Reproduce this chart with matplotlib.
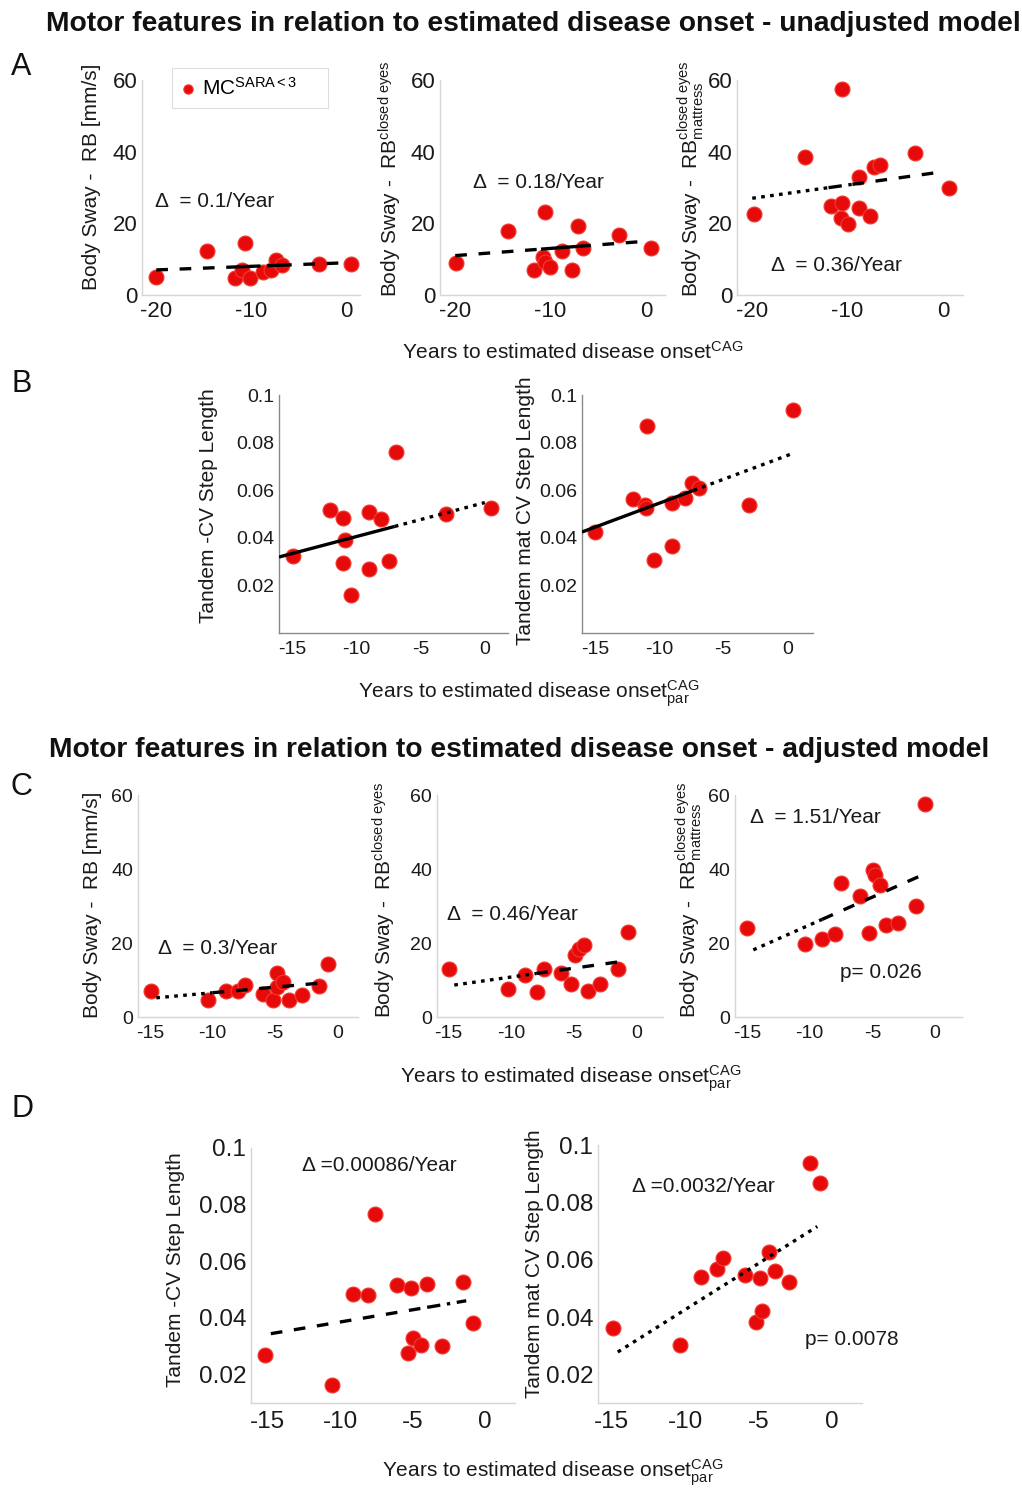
import numpy as np
import matplotlib
matplotlib.use("Agg")
from matplotlib import pyplot as plt

plt.rcParams['font.family'] = ['Liberation Sans', 'DejaVu Sans']
plt.rcParams['mathtext.fontset'] = 'custom'
plt.rcParams['mathtext.rm'] = 'Liberation Sans'
plt.rcParams['mathtext.it'] = 'Liberation Sans:italic'
plt.rcParams['mathtext.bf'] = 'Liberation Sans:bold'

W, H = 1022, 1488

# ---- data ----
# A: unadjusted model, body sway
a1_x = [-20, -14.7, -10.7, -11.75, -11.0, -10.2, -8.8, -7.9, -7.4, -6.8, -2.9, 0.5]
a1_y = [4.9, 12.4, 14.6, 4.65, 7.0, 4.65, 6.5, 7.0, 9.8, 8.4, 8.7, 8.7]
a2_x = [-19.9, -14.5, -10.6, -11.75, -10.8, -10.6, -10.1, -8.8, -7.8, -7.1, -6.6, -2.8, 0.5]
a2_y = [9.0, 18.0, 23.1, 7.0, 10.7, 9.3, 7.9, 12.4, 7.0, 19.3, 13.0, 16.7, 13.0]
a3_x = [-19.8, -14.5, -10.6, -11.7, -10.6, -10.7, -10.0, -8.8, -8.8, -7.7, -7.2, -6.6, -2.9, 0.6]
a3_y = [22.6, 38.6, 57.4, 24.9, 25.6, 21.4, 19.8, 33.0, 24.2, 22.1, 35.8, 36.3, 39.5, 30.0]

# B: unadjusted model, tandem gait
b1_x = [-14.9, -12.0, -11.0, -10.9, -11.0, -10.4, -9.0, -9.0, -8.06, -7.45, -6.9, -3.0, 0.45]
b1_y = [0.0322, 0.0517, 0.0483, 0.0392, 0.0294, 0.0161, 0.0269, 0.0510, 0.0478, 0.0301, 0.0762, 0.0499, 0.0524]
b2_x = [-14.95, -12.05, -11.1, -11.0, -10.95, -10.4, -9.0, -9.0, -7.95, -7.4, -6.9, -3.0, 0.47]
b2_y = [0.0424, 0.0564, 0.0538, 0.0524, 0.087, 0.0308, 0.0545, 0.0364, 0.0566, 0.063, 0.0608, 0.0538, 0.0937]

# C: adjusted model, body sway
c1_x = [-14.9, -10.35, -8.9, -7.96, -7.4, -6.0, -5.2, -4.9, -4.9, -4.4, -3.9, -2.9, -1.5, -0.8]
c1_y = [6.9, 4.5, 6.9, 7.0, 8.6, 6.3, 4.5, 12.0, 8.1, 9.5, 4.5, 5.9, 8.3, 14.4]
c2_x = [-14.95, -10.2, -8.9, -7.9, -7.4, -6.0, -5.25, -4.9, -4.6, -4.2, -3.9, -2.9, -1.5, -0.75]
c2_y = [12.9, 7.7, 11.3, 6.8, 12.9, 11.9, 8.8, 16.7, 18.5, 19.4, 7.0, 8.8, 12.9, 23.0]
c3_x = [-14.97, -10.4, -9.0, -8.0, -7.5, -6.0, -5.3, -4.95, -4.8, -4.4, -3.95, -2.95, -1.5, -0.8]
c3_y = [24.1, 19.7, 21.2, 22.3, 36.1, 32.7, 22.6, 39.7, 38.4, 35.6, 24.8, 25.5, 30.0, 57.6]

# D: adjusted model, tandem gait
d1_x = [-15.2, -10.55, -9.1, -8.1, -7.6, -6.1, -5.1, -5.3, -4.95, -4.4, -4.0, -3.0, -1.55, -0.85]
d1_y = [0.0268, 0.0162, 0.0485, 0.0482, 0.0767, 0.0515, 0.0506, 0.0276, 0.0329, 0.0304, 0.0521, 0.0300, 0.0527, 0.0382]
d2_x = [-14.9, -10.35, -8.9, -7.85, -7.4, -5.9, -5.2, -4.9, -4.75, -4.3, -3.9, -2.9, -1.5, -0.8]
d2_y = [0.0361, 0.0303, 0.0539, 0.0566, 0.0605, 0.0547, 0.0381, 0.0536, 0.0421, 0.0626, 0.0560, 0.0521, 0.0936, 0.0866]

# fitted trend lines: slope, intercept at x=0
fit_slope = {'a1': 0.1, 'a2': 0.2, 'a3': 0.37, 'b1': 0.00143, 'b2': 0.00201,
             'c1': 0.304, 'c2': 0.48, 'c3': 1.5, 'd1': 0.00086, 'd2': 0.00322}
fit_icpt = {'a1': 9.0, 'a2': 15.0, 'a3': 34.4, 'b1': 0.0548, 'b2': 0.0746,
            'c1': 9.6, 'c2': 15.6, 'c3': 39.9, 'd1': 0.0472, 'd2': 0.0748}

DASH = (0, (3.5, 3.5))
LDASH = (0, (7, 2))
DOT = (0, (1.1, 1.6))
DDOT = (0, (4, 2, 1, 2))
fit_segs = {
    'a1': [(-20, -11.5, DASH), (-11.5, -7, LDASH), (-7, 0, DASH)],
    'a2': [(-20, -11, DASH), (-11, -7, '-'), (-7, -0.5, DASH)],
    'a3': [(-20, -12, DOT), (-12, -9.5, DDOT), (-9.5, -0.5, DASH)],
    'b1': [(-16, -7, '-'), (-7, 0, DOT)],
    'b2': [(-16, -7.3, '-'), (-7.3, 0.3, DOT)],
    'c1': [(-14.5, -10, DOT), (-10, -1, DASH)],
    'c2': [(-14.5, -8, DOT), (-8, -1, DASH)],
    'c3': [(-14.5, -9, DOT), (-9, -1, DASH)],
    'd1': [(-14.8, -4, DASH), (-4, -1.3, DDOT)],
    'd2': [(-14.6, -1.0, DOT)],
}

ylab_sway = r'Body Sway -  RB [mm/s]'
ylab_eyes = r'Body Sway -  RB$^{\rm closed\ eyes}$'
ylab_matt = r'Body Sway -  RB$^{\rm closed\ eyes}_{\rm mattress}$'
ylab_tcv = 'Tandem -CV Step Length'
ylab_tmat = 'Tandem mat CV Step Length'

sway_ticks = [0, 20, 40, 60]
cv_ticks = [0.02, 0.04, 0.06, 0.08, 0.1]
cv_ticklabels = ['0.02', '0.04', '0.06', '0.08', '0.1']

fig = plt.figure(figsize=(W / 100, H / 100), dpi=100)


def px_axes(l, t, r, b):
    return fig.add_axes([l / W, 1 - b / H, (r - l) / W, (b - t) / H])


def ptext(x, y, s, **kw):
    return fig.text(x / W, 1 - y / H, s, **kw)


def make_panel(key, box, xs, ys, xlim, ylim, xticks, yticks, ytl, spine, fs, xpad, ylab, ylab_pos):
    ax = px_axes(*box)
    ax.scatter(xs, ys, s=115, facecolor='#e60a0a', edgecolor='#f23a30', linewidth=0.8, zorder=3)
    for x0, x1, ls in fit_segs[key]:
        xx = np.array([x0, x1])
        ax.plot(xx, fit_icpt[key] + fit_slope[key] * xx, color='k', lw=2.4,
                linestyle=ls, solid_capstyle='butt', zorder=4)
    ax.set_xlim(*xlim)
    ax.set_ylim(*ylim)
    ax.set_xticks(xticks)
    ax.set_xticklabels([str(t) for t in xticks])
    ax.set_yticks(yticks)
    ax.set_yticklabels(ytl)
    for s in ['top', 'right']:
        ax.spines[s].set_visible(False)
    for s in ['left', 'bottom']:
        ax.spines[s].set_color(spine)
        ax.spines[s].set_linewidth(1.0)
    ax.tick_params(axis='both', length=0, labelsize=fs, colors='#1a1a1a')
    ax.tick_params(axis='x', pad=xpad)
    ax.tick_params(axis='y', pad=3.5)
    ax.patch.set_alpha(0)
    ptext(ylab_pos[0], ylab_pos[1], ylab, rotation=90, rotation_mode='anchor',
          ha='left', va='baseline', fontsize=15, color='#1a1a1a')
    return ax


ATK = [-20, -10, 0]
TK15 = [-15, -10, -5, 0]
LGRAY = '#d6d6d6'
DGRAY = '#8a8a8a'
sway_tl = [str(t) for t in sway_ticks]

ax_a1 = make_panel('a1', (142, 80, 360, 295), a1_x, a1_y, (-21.5, 1.4), (0, 60), ATK,
                   sway_ticks, sway_tl, LGRAY, 16, 4.5, ylab_sway, (97, 290))
ax_a2 = make_panel('a2', (440, 80, 665, 295), a2_x, a2_y, (-21.6, 2.0), (0, 60), ATK,
                   sway_ticks, sway_tl, LGRAY, 16, 4.5, ylab_eyes, (398, 297))
ax_a3 = make_panel('a3', (737, 80, 963, 295), a3_x, a3_y, (-21.6, 2.1), (0, 60), ATK,
                   sway_ticks, sway_tl, LGRAY, 16, 4.5, ylab_matt, (698, 297))

ax_b1 = make_panel('b1', (279, 395, 508, 633), b1_x, b1_y, (-16.0, 1.8), (0, 0.1), TK15,
                   cv_ticks, cv_ticklabels, DGRAY, 14, 6, ylab_tcv, (214, 623))
ax_b2 = make_panel('b2', (582, 395, 813, 633), b2_x, b2_y, (-16.0, 2.0), (0, 0.1), TK15,
                   cv_ticks, cv_ticklabels, DGRAY, 14, 6, ylab_tmat, (531, 645))

ax_c1 = make_panel('c1', (138, 795, 358, 1017), c1_x, c1_y, (-15.96, 1.6), (0, 60), TK15,
                   sway_ticks, sway_tl, LGRAY, 14, 6, ylab_sway, (98, 1018))
ax_c2 = make_panel('c2', (437, 795, 663, 1017), c2_x, c2_y, (-15.87, 2.06), (0, 60), TK15,
                   sway_ticks, sway_tl, LGRAY, 14, 6, ylab_eyes, (391, 1018))
ax_c3 = make_panel('c3', (735, 795, 962, 1017), c3_x, c3_y, (-15.96, 2.15), (0, 60), TK15,
                   sway_ticks, sway_tl, LGRAY, 14, 6, ylab_matt, (696, 1018))

ax_d1 = make_panel('d1', (251, 1148, 515, 1403), d1_x, d1_y, (-16.17, 2.07), (0.01, 0.1), TK15,
                   cv_ticks, cv_ticklabels, LGRAY, 17.5, 5.5, ylab_tcv, (181, 1387))
ax_d2 = make_panel('d2', (598, 1145, 862, 1403), d2_x, d2_y, (-15.95, 2.05), (0.01, 0.1), TK15,
                   cv_ticks, cv_ticklabels, LGRAY, 17.5, 5.5, ylab_tmat, (540, 1398))

# slope / p annotations
note_kw = dict(fontsize=15, color='#1a1a1a', va='center', ha='left')
ax_a1.text(-20.1, 26, r'Δ  = 0.1/Year', **note_kw)
ax_a2.text(-18.1, 31.3, r'Δ  = 0.18/Year', **note_kw)
ax_a3.text(-18.0, 8.1, r'Δ  = 0.36/Year', **note_kw)
ax_c1.text(-14.4, 18.4, r'Δ  = 0.3/Year', **note_kw)
ax_c2.text(-15.1, 27.8, r'Δ  = 0.46/Year', **note_kw)
ax_c3.text(-14.8, 53.8, r'Δ  = 1.51/Year', **note_kw)
ax_c3.text(-7.6, 11.9, 'p= 0.026', **note_kw)
ax_d1.text(-12.65, 0.0937, 'Δ =0.00086/Year', **note_kw)
ax_d2.text(-13.6, 0.0856, 'Δ =0.0032/Year', **note_kw)
ax_d2.text(-1.85, 0.032, 'p= 0.0078', **note_kw)

# legend in panel A
h = ax_a1.scatter([], [], s=45, facecolor='#e60a0a', edgecolor='#f23a30', linewidth=0.8)
leg = ax_a1.legend([h], [r'MC$^{\rm SARA<3}$'], loc='center left',
                   bbox_to_anchor=(172 / W, 1 - 111 / H, 156 / W, 46 / H),
                   bbox_transform=fig.transFigure, mode='expand', borderaxespad=0,
                   fancybox=False, framealpha=1, edgecolor='#dddddd', fontsize=15,
                   handletextpad=0.4, handlelength=0.6, borderpad=0.45)
leg.get_frame().set_linewidth(0.8)

# titles, panel letters, x labels
title_kw = dict(fontsize=20.3, fontweight='bold', ha='center', va='baseline', color='#111111')
ptext(533, 31, 'Motor features in relation to estimated disease onset - unadjusted model', **title_kw)
ptext(519, 757, 'Motor features in relation to estimated disease onset - adjusted model', **title_kw)

for letter, yb in [('A', 75), ('B', 392), ('C', 795), ('D', 1117)]:
    ptext(11, yb, letter, fontsize=22, ha='left', va='baseline', color='#111111')

xlab_kw = dict(fontsize=15, ha='left', va='baseline', color='#1a1a1a')
ptext(402, 359, r'Years to estimated disease onset$^{\rm CAG}$', **xlab_kw)
ptext(358, 698, r'Years to estimated disease onset$^{\rm CAG}_{\rm par}$', **xlab_kw)
ptext(400, 1083, r'Years to estimated disease onset$^{\rm CAG}_{\rm par}$', **xlab_kw)
ptext(382, 1477, r'Years to estimated disease onset$^{\rm CAG}_{\rm par}$', **xlab_kw)

fig.savefig('out.png', dpi=100, facecolor='white')
